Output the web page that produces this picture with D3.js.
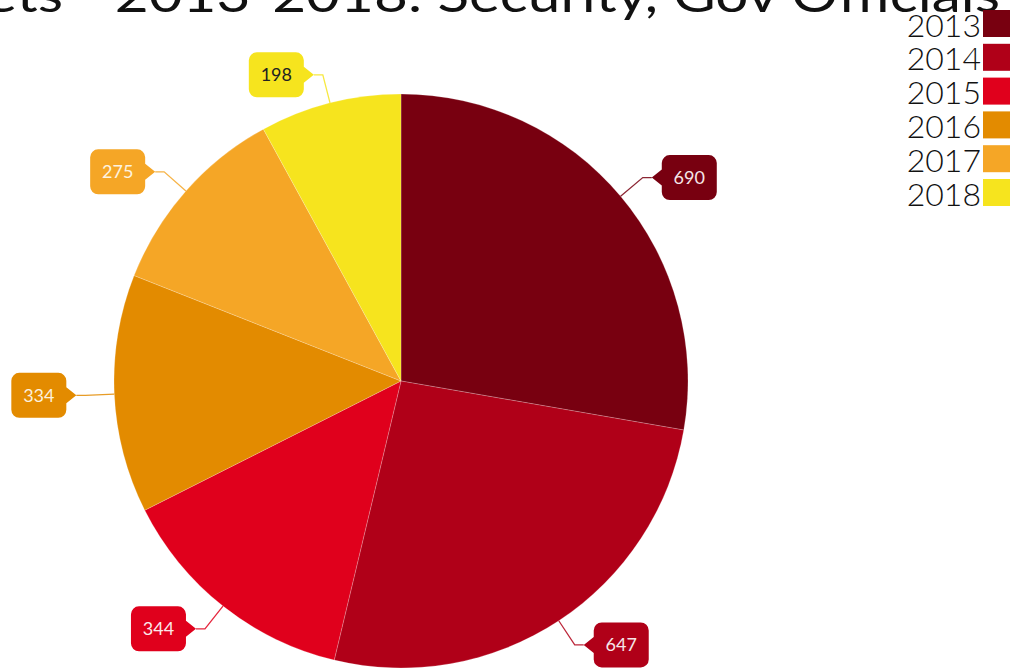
<!DOCTYPE html>
<html>
<head>
<meta charset="utf-8">
<script src="https://cdn.jsdelivr.net/npm/d3@7"></script>
<style>
  html, body { margin: 0; padding: 0; background: #fff; overflow: hidden; }
  svg { display: block; }
</style>
</head>
<body>
<svg id="chart" width="1019" height="670"></svg>
<script>
// Yearly counts, 2013–2018
const years = ["2013", "2014", "2015", "2016", "2017", "2018"];
const counts = [690, 647, 344, 334, 275, 198];
const colors = ["#780010", "#b00018", "#e0001c", "#e38b00", "#f5a626", "#f6e41e"];
const labelText = ["#f6e6e8", "#f6e6e8", "#fbe8ea", "#fbf0dd", "#fdf3e0", "#222222"];
const title = "Targets - 2013-2018: Security, Gov Officials";

const svg = d3.select("#chart");
const cx = 401, cy = 381, R = 287;

// Title (sits partly above the top edge), widened to a broad geometric look
const titleRight = 1000, titleDashX = 78;
const titleText = svg.append("text")
  .attr("x", 0)
  .attr("y", 0)
  .attr("text-anchor", "end")
  .attr("font-family", "Lato, 'Open Sans', sans-serif")
  .attr("font-size", 48)
  .attr("fill", "#111")
  .text(title);
{
  const node = titleText.node();
  const k = title.indexOf("- ");
  const tailW = node.getSubStringLength(k, title.length - k);
  const sx = (titleRight - titleDashX) / tailW;
  titleText.attr("transform", `translate(${titleRight},12) scale(${sx},1)`);
}

const color = d3.scaleOrdinal().domain(years).range(colors);
const textColor = d3.scaleOrdinal().domain(years).range(labelText);

const pie = d3.pie().sort(null).value(d => d.value);
const data = years.map((y, i) => ({ year: y, value: counts[i] }));
const arcs = pie(data);

const arc = d3.arc().innerRadius(0).outerRadius(R);
const g = svg.append("g").attr("transform", `translate(${cx},${cy})`);

g.selectAll("path.slice")
  .data(arcs)
  .enter().append("path")
  .attr("class", "slice")
  .attr("d", arc)
  .attr("fill", d => color(d.data.year))
  .attr("stroke", "rgba(255,255,255,0.35)")
  .attr("stroke-width", 0.6);

// Callout labels: radial leader, short horizontal run, rounded box with pointer
const edgeArc = d3.arc().innerRadius(R).outerRadius(R);
const elbowArc = d3.arc().innerRadius(R + 29).outerRadius(R + 29);
const run = 9, gap = 10, boxW = 55, boxH = 45, rad = 8, notch = 8;

const labels = g.selectAll("g.callout")
  .data(arcs)
  .enter().append("g")
  .attr("class", "callout");

labels.each(function (d) {
  const sel = d3.select(this);
  const [ex, ey] = edgeArc.centroid(d);
  const [bx, by] = elbowArc.centroid(d);
  const mid = (d.startAngle + d.endAngle) / 2;
  const side = Math.sin(mid) >= 0 ? 1 : -1;
  const tipX = bx + side * run;
  const c = color(d.data.year);

  sel.append("polyline")
    .attr("points", [[ex, ey], [bx, by], [tipX, by]].map(p => p.join(",")).join(" "))
    .attr("fill", "none")
    .attr("stroke", c)
    .attr("stroke-opacity", 0.85)
    .attr("stroke-width", 1.3);

  const x0 = side > 0 ? tipX + gap : tipX - gap - boxW;
  const y0 = by - boxH / 2;
  const x1 = x0 + boxW, y1 = y0 + boxH;

  // box outline with pointer on the side facing the pie
  const p = d3.path();
  p.moveTo(x0 + rad, y0);
  p.lineTo(x1 - rad, y0);
  p.arcTo(x1, y0, x1, y0 + rad, rad);
  if (side < 0) {
    p.lineTo(x1, by - notch);
    p.lineTo(tipX, by);
    p.lineTo(x1, by + notch);
  }
  p.lineTo(x1, y1 - rad);
  p.arcTo(x1, y1, x1 - rad, y1, rad);
  p.lineTo(x0 + rad, y1);
  p.arcTo(x0, y1, x0, y1 - rad, rad);
  if (side > 0) {
    p.lineTo(x0, by + notch);
    p.lineTo(tipX, by);
    p.lineTo(x0, by - notch);
  }
  p.lineTo(x0, y0 + rad);
  p.arcTo(x0, y0, x0 + rad, y0, rad);
  p.closePath();

  sel.append("path")
    .attr("d", p.toString())
    .attr("fill", c);

  sel.append("text")
    .attr("x", (x0 + x1) / 2)
    .attr("y", by)
    .attr("dy", "0.36em")
    .attr("text-anchor", "middle")
    .attr("font-family", "Lato, 'Open Sans', sans-serif")
    .attr("font-size", 18)
    .attr("fill", textColor(d.data.year))
    .text(d.data.value);
});

// Legend, top right
const legend = svg.append("g").attr("transform", "translate(983,10)");
const rowH = 33.8, sw = 27;
const rows = legend.selectAll("g.row")
  .data(years)
  .enter().append("g")
  .attr("class", "row")
  .attr("transform", (d, i) => `translate(0,${i * rowH})`);

rows.append("rect")
  .attr("width", sw)
  .attr("height", sw)
  .attr("fill", d => color(d));

rows.append("text")
  .attr("x", -2)
  .attr("y", sw - 0.5)
  .attr("text-anchor", "end")
  .attr("font-family", "Lato, 'Open Sans', sans-serif")
  .attr("font-weight", 300)
  .attr("font-size", 32)
  .attr("fill", "#111")
  .text(d => d);
</script>
</body>
</html>
